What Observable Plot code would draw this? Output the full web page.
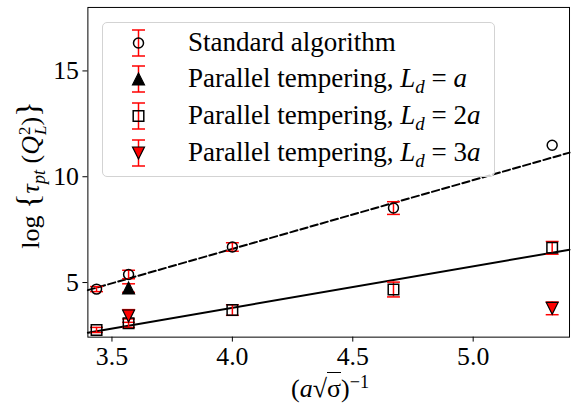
<!DOCTYPE html>
<html><head><meta charset="utf-8">
<script src="https://cdn.jsdelivr.net/npm/d3@7"></script>
<script src="https://cdn.jsdelivr.net/npm/@observablehq/plot@0.6"></script>
<style>
html,body{margin:0;padding:0;background:#fff;overflow:hidden;}
#wrap{position:relative;width:571px;height:411px;overflow:hidden;font-family:"Liberation Serif",serif;color:#000;}
#chart{position:absolute;left:0;top:0;}
#legend{position:absolute;left:102px;top:22px;width:393px;height:155px;box-sizing:border-box;border:1px solid #d3d3d3;border-radius:5px;background:rgba(255,255,255,0.8);}
.row{position:absolute;left:0;height:36px;width:390px;}
.row svg{position:absolute;left:18.5px;top:0;}
.row span.t{position:absolute;left:85px;top:4px;font-size:27px;line-height:27px;white-space:nowrap;}
sub{font-size:70%;vertical-align:-0.3em;line-height:0;}
sup{font-size:70%;vertical-align:0.5em;line-height:0;}
#ylab{position:absolute;left:30px;top:175px;transform:translate(-50%,-50%) rotate(-90deg);white-space:nowrap;font-size:26px;}
#xlab{position:absolute;left:330px;top:389px;transform:translate(-50%,-50%);white-space:nowrap;font-size:26px;}
.ss{display:inline-block;vertical-align:middle;font-size:65%;line-height:0.95;text-align:left;margin-left:1px;}
.big{font-size:125%;}
</style>
</head><body>
<div id="wrap">
<div id="chart"></div>
<div id="legend"></div>
<div id="ylab">log <span class="big">{</span><i>τ</i><sub><i>pt</i></sub> (<i>Q</i><span class="ss">2<br><i>L</i></span>)<span class="big">}</span></div>
<div id="xlab">(<i>a</i>√<span style="border-top:1.5px solid #000;padding-top:1px">σ</span>)<sup>−1</sup></div>
</div>
<script>
// ---- data ----
const xValues = [3.436, 3.569, 4.0, 4.669, 5.328];
const standardY = [4.69, 5.38, 6.68, 8.52, 11.49];
const standardErr = [0.12, 0.2, 0.2, 0.3, 0];
const pt1X = [3.569];
const pt1Y = [4.74];
const pt1Err = [0.2];
const pt2X = [3.436, 3.569, 4.0, 4.669, 5.328];
const pt2Y = [2.76, 3.08, 3.70, 4.67, 6.64];
const pt2Err = [0.12, 0.2, 0.25, 0.35, 0.3];
const pt3X = [3.569, 5.328];
const pt3Y = [3.42, 3.78];
const pt3Err = [0.3, 0.3];
const fitX = [3.4, 5.4];
const fitStandard = [4.64, 11.14];
const fitParallel = [2.63, 6.55];
const xTicks = [3.5, 4.0, 4.5, 5.0];
const yTicks = [5, 10, 15];
const seriesLabels = [
  "Standard algorithm",
  "Parallel tempering, <i>L</i><sub><i>d</i></sub> = <i>a</i>",
  "Parallel tempering, <i>L</i><sub><i>d</i></sub> = 2<i>a</i>",
  "Parallel tempering, <i>L</i><sub><i>d</i></sub> = 3<i>a</i>"
];

// ---- symbols (matplotlib-like geometry) ----
const rad = (size) => Math.sqrt(size / Math.PI);
const capSym = {draw(c, size){const r = rad(size); c.moveTo(-r, 0); c.lineTo(r, 0);}};
const circleSym = {draw(c, size){const r = rad(size); c.moveTo(r, 0); c.arc(0, 0, r, 0, 2*Math.PI); c.closePath();}};
const squareSym = {draw(c, size){const r = rad(size); c.moveTo(-r,-r); c.lineTo(r,-r); c.lineTo(r,r); c.lineTo(-r,r); c.closePath();}};
const triUpSym = {draw(c, size){const r = rad(size); c.moveTo(0,-r); c.lineTo(-r,r); c.lineTo(r,r); c.closePath();}};
const triDownSym = {draw(c, size){const r = rad(size); c.moveTo(0,r); c.lineTo(-r,-r); c.lineTo(r,-r); c.closePath();}};

const mk = (xs, ys, es) => xs.map((x, i) => ({x, y: ys[i], e: es[i], lo: ys[i] - es[i], hi: ys[i] + es[i]}));
const sStd = mk(xValues, standardY, standardErr);
const sP1 = mk(pt1X, pt1Y, pt1Err);
const sP2 = mk(pt2X, pt2Y, pt2Err);
const sP3 = mk(pt3X, pt3Y, pt3Err);
const fitData = fitX.map((x, i) => ({x, a: fitStandard[i], b: fitParallel[i]}));

function errMarks(data) {
  const d = data.filter(p => p.e > 0);
  return [
    Plot.ruleX(d, {x: "x", y1: "lo", y2: "hi", stroke: "red", strokeWidth: 1.5}),
    Plot.dot(d, {x: "x", y: "lo", symbol: capSym, r: 6.5, stroke: "red", strokeWidth: 1.5, fill: "none"}),
    Plot.dot(d, {x: "x", y: "hi", symbol: capSym, r: 6.5, stroke: "red", strokeWidth: 1.5, fill: "none"})
  ];
}

const chart = Plot.plot({
  width: 575, height: 411,
  marginLeft: 88, marginRight: 2, marginTop: 7, marginBottom: 72,
  style: {fontFamily: "'Liberation Serif', serif", fontSize: "26px", color: "#000", background: "transparent", overflow: "visible"},
  x: {domain: [3.4, 5.4]},
  y: {domain: [2.42, 18]},
  marks: [
    Plot.line(fitData, {x: "x", y: "a", stroke: "black", strokeWidth: 2, strokeDasharray: "7.4,3.2"}),
    Plot.line(fitData, {x: "x", y: "b", stroke: "black", strokeWidth: 2}),
    ...errMarks(sStd), ...errMarks(sP1), ...errMarks(sP2), ...errMarks(sP3),
    Plot.dot(sStd, {x: "x", y: "y", symbol: circleSym, r: 5, stroke: "black", strokeWidth: 1.5, fill: "none"}),
    Plot.dot(sP1, {x: "x", y: "y", symbol: triUpSym, r: 6, stroke: "black", strokeWidth: 1.2, fill: "black"}),
    Plot.dot(sP2, {x: "x", y: "y", symbol: squareSym, r: 5.3, stroke: "black", strokeWidth: 1.5, fill: "none"}),
    Plot.dot(sP3, {x: "x", y: "y", symbol: triDownSym, r: 6, stroke: "black", strokeWidth: 1.2, fill: "red"}),
    Plot.frame({stroke: "black", strokeWidth: 1}),
    Plot.axisX({ticks: xTicks, tickFormat: d3.format(".1f"), tickSize: 5, tickPadding: 5, label: null, fontSize: 26}),
    Plot.axisY({ticks: yTicks, tickSize: 5, tickPadding: 4, label: null, fontSize: 26})
  ]
});
document.getElementById("chart").appendChild(chart);

// ---- legend ----
const legend = d3.select("#legend");
const legendSyms = [
  {sym: circleSym, r: 5, fill: "none", sw: 1.5},
  {sym: triUpSym, r: 6, fill: "black", sw: 1.2},
  {sym: squareSym, r: 5.3, fill: "none", sw: 1.5},
  {sym: triDownSym, r: 6, fill: "red", sw: 1.2}
];
seriesLabels.forEach((lab, i) => {
  const row = legend.append("div").attr("class", "row").style("top", (1.7 + i * 36.6) + "px");
  const svg = row.append("svg").attr("width", 34).attr("height", 36);
  const g = svg.append("g").attr("transform", "translate(16.5,18)");
  g.append("line").attr("x1", 0).attr("x2", 0).attr("y1", -13).attr("y2", 13).attr("stroke", "red").attr("stroke-width", 1.5);
  [-13, 13].forEach(yy => g.append("line").attr("x1", -6.5).attr("x2", 6.5).attr("y1", yy).attr("y2", yy).attr("stroke", "red").attr("stroke-width", 1.5));
  const s = legendSyms[i];
  g.append("path").attr("d", d3.symbol(s.sym, s.r * s.r * Math.PI)()).attr("fill", s.fill).attr("stroke", "black").attr("stroke-width", s.sw);
  row.append("span").attr("class", "t").html(lab);
});
</script>
</body></html>
